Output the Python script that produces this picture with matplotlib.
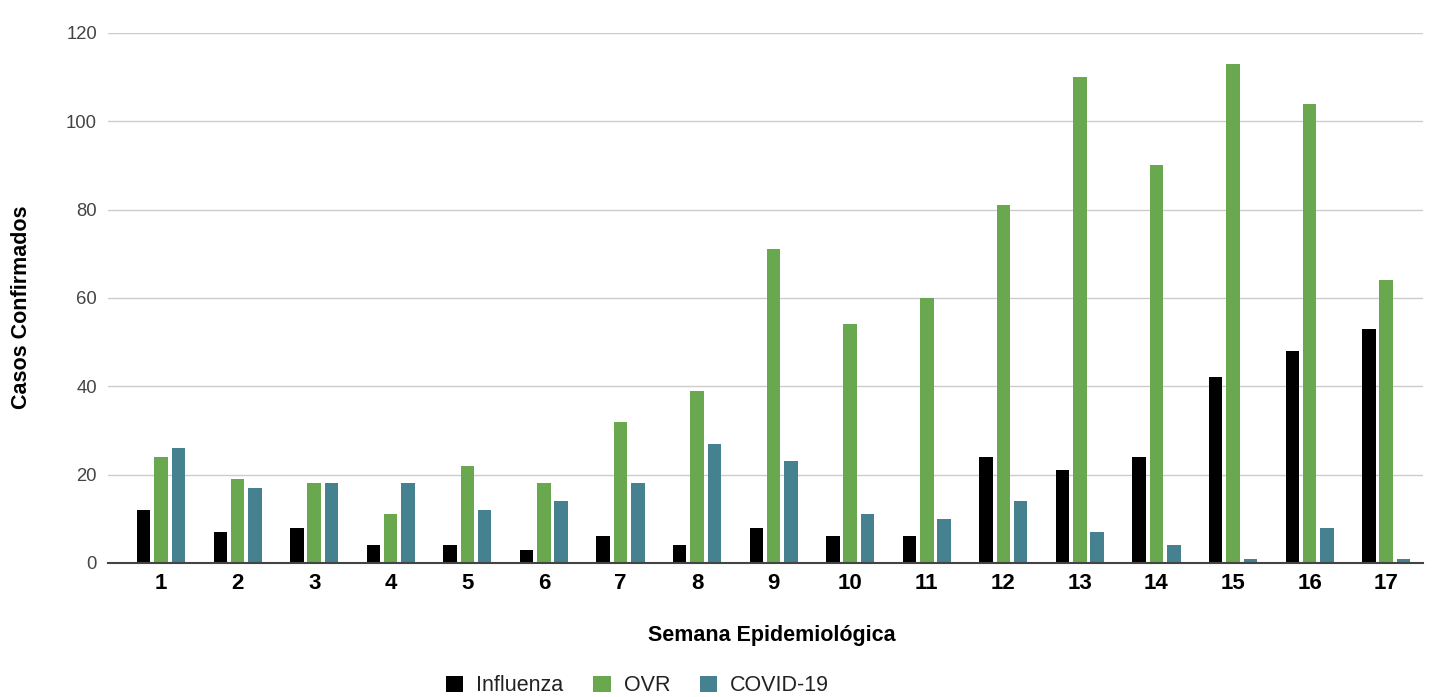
import numpy as np
import matplotlib
matplotlib.use('Agg')
from matplotlib import pyplot as plt

semanas = list(range(1, 18))
influenza = [12, 7, 8, 4, 4, 3, 6, 4, 8, 6, 6, 24, 21, 24, 42, 48, 53]
ovr = [24, 19, 18, 11, 22, 18, 32, 39, 71, 54, 60, 81, 110, 90, 113, 104, 64]
covid = [26, 17, 18, 18, 12, 14, 18, 27, 23, 11, 10, 14, 7, 4, 1, 8, 1]

plt.rcParams['font.family'] = ['Liberation Sans', 'DejaVu Sans']

fig = plt.figure(figsize=(14.33, 6.97), dpi=100)
ax = fig.add_axes([0.0754, 0.1923, 0.9176, 0.7604])

x = np.array(semanas)
w = 0.176
d = 0.226
ax.bar(x - d, influenza, w, color='#000000', label='Influenza', zorder=3)
ax.bar(x, ovr, w, color='#6aa84f', label='OVR', zorder=3)
ax.bar(x + d, covid, w, color='#45818e', label='COVID-19', zorder=3)

ax.set_xlim(0.308, 17.48)
ax.set_ylim(0, 120)
ax.set_yticks(range(0, 121, 20))
ax.set_xticks(x)
ax.set_xticklabels([str(s) for s in semanas], fontweight='bold', fontsize=16)
ax.tick_params(axis='y', length=0, labelsize=13.3, labelcolor='#444444', pad=8)
ax.tick_params(axis='x', length=0, pad=7)
ax.grid(axis='y', color='#cccccc', linewidth=1, zorder=0)
for s in ['top', 'right', 'left']:
    ax.spines[s].set_visible(False)
ax.spines['bottom'].set_color('#444444')
ax.spines['bottom'].set_linewidth(1.5)
ax.spines['bottom'].set_zorder(4)

ax.set_xlabel('Semana Epidemiológica', fontweight='bold', fontsize=15.5)
ax.set_ylabel('Casos Confirmados', fontweight='bold', fontsize=15.5)
ax.xaxis.set_label_coords(0.505, -0.117)
ax.yaxis.set_label_coords(-0.058, 0.483)

fig.legend(loc='center', bbox_to_anchor=(0.445, 0.016), ncol=3, frameon=False,
           fontsize=15.5, handlelength=0.8, handleheight=0.8, handletextpad=0.6,
           columnspacing=1.4, labelcolor='#222222')

fig.savefig('out.png', dpi=100)
